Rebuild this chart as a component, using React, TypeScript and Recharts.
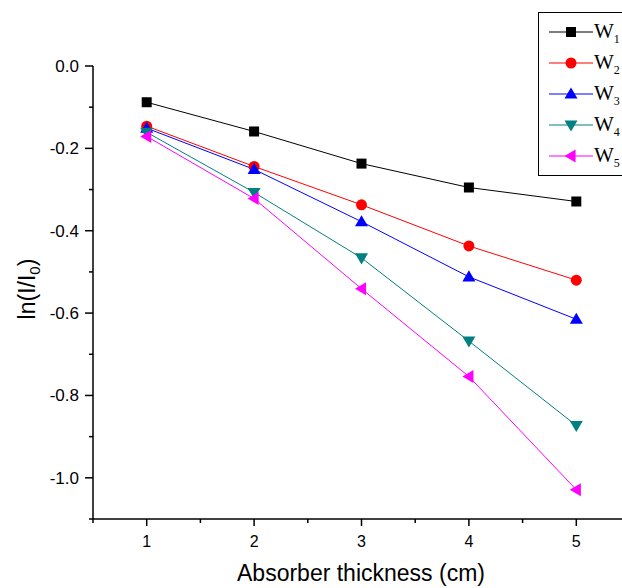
import React from 'react';
import { LineChart, Line, XAxis, YAxis } from 'recharts';

const thickness = [1, 2, 3, 4, 5];
const w1 = [-0.088, -0.159, -0.237, -0.295, -0.329];
const w2 = [-0.146, -0.244, -0.337, -0.437, -0.52];
const w3 = [-0.151, -0.251, -0.378, -0.512, -0.615];
const w4 = [-0.161, -0.307, -0.466, -0.668, -0.873];
const w5 = [-0.171, -0.322, -0.541, -0.754, -1.029];

const xTicks = [0.5, 1, 1.5, 2, 2.5, 3, 3.5, 4, 4.5, 5, 5.5];
const yTicks = [0, -0.1, -0.2, -0.3, -0.4, -0.5, -0.6, -0.7, -0.8, -0.9, -1.0, -1.1];

const series = [
  { key: 'w1', sub: '1', values: w1, color: '#000000', shape: 'square' },
  { key: 'w2', sub: '2', values: w2, color: '#ff0000', shape: 'circle' },
  { key: 'w3', sub: '3', values: w3, color: '#0000ff', shape: 'up' },
  { key: 'w4', sub: '4', values: w4, color: '#008080', shape: 'down' },
  { key: 'w5', sub: '5', values: w5, color: '#ff00ff', shape: 'left' },
];

const data = thickness.map((x, i) => {
  const row: Record<string, number> = { x };
  series.forEach((s) => {
    row[s.key] = s.values[i];
  });
  return row;
});

const FONT = '"Liberation Sans", Arial, sans-serif';
const SERIF = '"Liberation Serif", "Times New Roman", serif';

function Marker({ cx, cy, shape, color }: { cx: number; cy: number; shape: string; color: string }) {
  if (shape === 'square') {
    return <rect x={cx - 5} y={cy - 5} width={10} height={10} fill={color} />;
  }
  if (shape === 'circle') {
    return <circle cx={cx} cy={cy} r={5.5} fill={color} />;
  }
  const r = 6.5;
  let pts = '';
  if (shape === 'up') pts = `${cx},${cy - r} ${cx - r},${cy + r * 0.7} ${cx + r},${cy + r * 0.7}`;
  if (shape === 'down') pts = `${cx},${cy + r} ${cx - r},${cy - r * 0.7} ${cx + r},${cy - r * 0.7}`;
  if (shape === 'left') pts = `${cx - r},${cy} ${cx + r * 0.7},${cy - r} ${cx + r * 0.7},${cy + r}`;
  return <polygon points={pts} fill={color} />;
}

const isMajorX = (v: number) => Number.isInteger(v);
const isMajorY = (v: number) => Math.round(Math.abs(v) * 10) % 2 === 0;

function XTick(props: any) {
  const { x, y, payload } = props;
  const major = isMajorX(payload.value);
  return (
    <g>
      <line x1={x} y1={y} x2={x} y2={y + (major ? 7 : 4)} stroke="#000" strokeWidth={1.5} />
      {major && (
        <text x={x} y={y + 28} textAnchor="middle" fontSize={16} fontFamily={FONT} fill="#000">
          {payload.value}
        </text>
      )}
    </g>
  );
}

function YTick(props: any) {
  const { x, y, payload } = props;
  const major = isMajorY(payload.value);
  return (
    <g>
      <line x1={x} y1={y} x2={x - (major ? 8 : 4)} y2={y} stroke="#000" strokeWidth={1.5} />
      {major && (
        <text x={x - 14} y={y + 6} textAnchor="end" fontSize={17} fontFamily={FONT} fill="#000">
          {payload.value.toFixed(1)}
        </text>
      )}
    </g>
  );
}

function LegendBox() {
  return (
    <svg width={100} height={170} style={{ display: 'block' }}>
      <rect x={0.5} y={0.5} width={98} height={163} fill="#fff" stroke="#000" strokeWidth={1} />
      {series.map((s, i) => {
        const cy = 20 + i * 31;
        return (
          <g key={s.key}>
            <line x1={11} y1={cy} x2={55} y2={cy} stroke={s.color} strokeWidth={1.2} />
            <Marker cx={33} cy={cy} shape={s.shape} color={s.color} />
            <text x={56} y={cy + 6} fontSize={21} fontFamily={SERIF} fill="#000">
              W
              <tspan fontSize={12} dy={5}>
                {s.sub}
              </tspan>
            </text>
          </g>
        );
      })}
    </svg>
  );
}

export default function App() {
  return (
    <div style={{ position: 'absolute', left: 0, top: 0, width: 622, height: 588, overflow: 'hidden', background: '#fff' }}>
      <LineChart width={640} height={588} data={data} margin={{ top: 66, right: 10, left: 33, bottom: 39 }}>
        <XAxis
          dataKey="x"
          type="number"
          domain={[0.5, 5.5]}
          ticks={xTicks}
          interval={0}
          tickSize={0}
          tickMargin={0}
          tickLine={false}
          tick={<XTick />}
          axisLine={{ stroke: '#000', strokeWidth: 1.5 }}
          height={30}
        />
        <YAxis
          type="number"
          domain={[-1.1, 0]}
          ticks={yTicks}
          interval={0}
          tickSize={0}
          tickMargin={0}
          tickLine={false}
          tick={<YTick />}
          axisLine={{ stroke: '#000', strokeWidth: 1.5 }}
          width={60}
        />
        {series.map((s) => (
          <Line
            key={s.key}
            dataKey={s.key}
            type="linear"
            stroke={s.color}
            strokeWidth={1}
            isAnimationActive={false}
            dot={(p: any) => <Marker key={`${s.key}-${p.index}`} cx={p.cx} cy={p.cy} shape={s.shape} color={s.color} />}
            activeDot={false}
          />
        ))}
        <text x={361} y={581} textAnchor="middle" fontSize={23} fontFamily={FONT} fill="#000">
          Absorber thickness (cm)
        </text>
        <text x={35} y={289} textAnchor="middle" fontSize={23} fontFamily={FONT} fill="#000" transform="rotate(-90 35 289)">
          ln(I/I
          <tspan fontSize={15} dy={5}>0</tspan>
          <tspan dy={-5}>)</tspan>
        </text>
      </LineChart>
      <div style={{ position: 'absolute', left: 538, top: 12 }}>
        <LegendBox />
      </div>
    </div>
  );
}
